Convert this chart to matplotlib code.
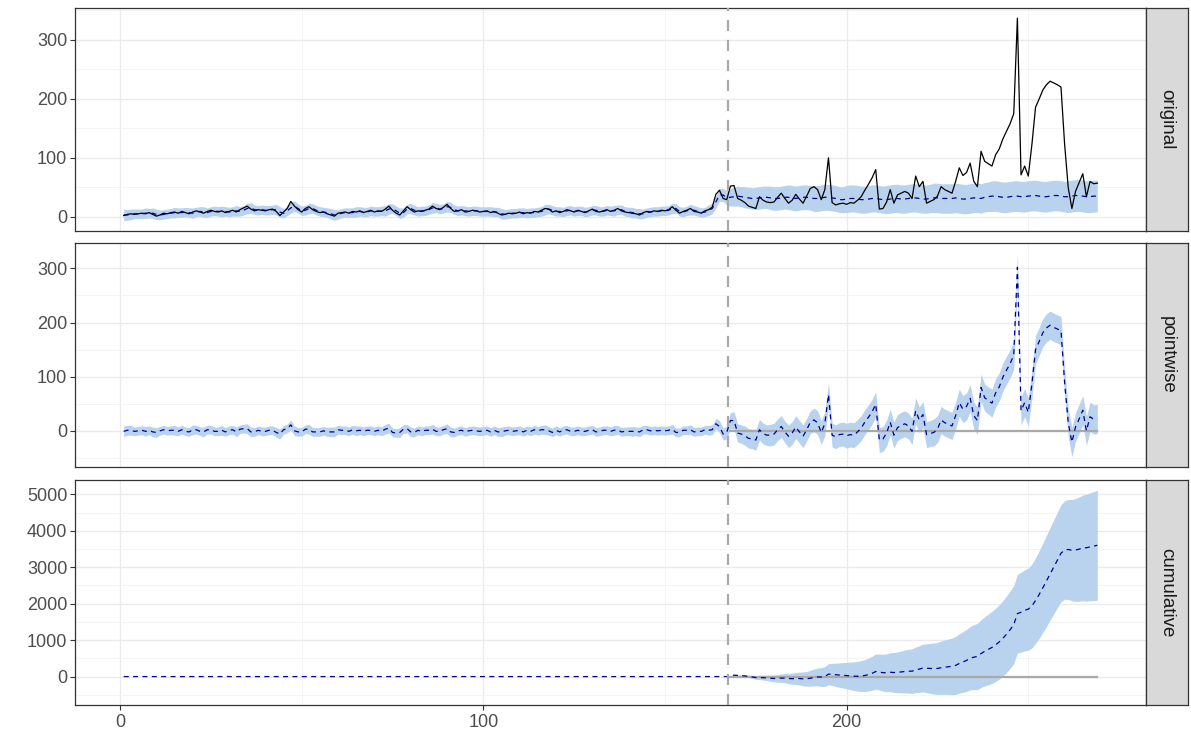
import numpy as np
import matplotlib
matplotlib.use("Agg")
import matplotlib.pyplot as plt
from matplotlib.ticker import MultipleLocator

plt.rcParams['font.family'] = ['Liberation Sans', 'DejaVu Sans']

# observed series, pre-period (t = 1..167)
original_pre = [2, 4, 5, 4, 5, 6, 5, 7, 4, 1,
                3, 6, 5, 7, 8, 6, 9, 7, 5, 8,
                10, 8, 6, 9, 11, 9, 8, 10, 7, 9,
                11, 8, 12, 15, 18, 13, 10, 12, 11, 10,
                12, 13, 9, 2, 8, 14, 26, 18, 12, 8,
                14, 17, 12, 9, 7, 8, 5, 3, 1, 6,
                7, 8, 6, 9, 8, 10, 7, 9, 11, 8,
                10, 9, 13, 18, 11, 6, 3, 10, 17, 12,
                8, 10, 9, 11, 13, 18, 14, 12, 16, 21,
                14, 9, 10, 12, 8, 9, 11, 10, 8, 9,
                10, 7, 9, 6, 3, 4, 6, 5, 6, 8,
                5, 7, 6, 9, 8, 11, 14, 13, 8, 10,
                7, 9, 12, 10, 8, 11, 9, 7, 10, 13,
                9, 8, 10, 12, 9, 11, 14, 10, 8, 7,
                6, 5, 3, 7, 9, 8, 10, 9, 11, 10,
                12, 17, 11, 6, 9, 11, 14, 9, 8, 6,
                10, 12, 16, 38, 45, 31, 29]
# observed series, post-period (t = 168..269)
original_post = [52, 53, 31, 28, 24, 18, 16, 14, 34, 28,
                 25, 24, 25, 33, 40, 31, 23, 28, 38, 30,
                 23, 35, 48, 51, 46, 29, 46, 100, 24, 20,
                 22, 23, 21, 24, 23, 28, 34, 45, 55, 66,
                 80, 13, 14, 25, 46, 23, 37, 40, 43, 40,
                 31, 69, 51, 60, 23, 26, 29, 35, 51, 46,
                 43, 40, 60, 83, 70, 75, 91, 60, 51, 111,
                 94, 90, 86, 105, 115, 132, 145, 158, 175, 337,
                 71, 86, 69, 123, 186, 200, 215, 224, 230, 227,
                 224, 220, 123, 49, 14, 43, 58, 73, 34, 60,
                 56, 57]

# model prediction (posterior mean)
predicted_pre = [3, 3, 4, 5, 5, 5, 6, 6, 6, 4,
                 3, 4, 5, 6, 7, 7, 7, 8, 7, 6,
                 8, 9, 8, 7, 9, 10, 9, 9, 9, 8,
                 9, 10, 9, 11, 14, 15, 12, 11, 12, 11,
                 11, 12, 12, 8, 6, 10, 15, 18, 14, 10,
                 11, 14, 14, 11, 9, 8, 7, 5, 3, 4,
                 6, 7, 7, 7, 8, 9, 8, 8, 10, 9,
                 9, 10, 10, 13, 14, 10, 6, 7, 13, 14,
                 11, 9, 10, 10, 12, 15, 15, 13, 14, 17,
                 16, 12, 10, 11, 10, 9, 10, 10, 9, 9,
                 9, 9, 8, 8, 5, 4, 5, 6, 6, 7,
                 7, 6, 7, 7, 8, 9, 12, 13, 11, 9,
                 9, 8, 10, 11, 9, 10, 10, 8, 9, 11,
                 11, 9, 9, 11, 10, 10, 12, 12, 9, 8,
                 7, 6, 5, 5, 7, 8, 9, 9, 10, 10,
                 11, 14, 14, 9, 8, 10, 12, 11, 9, 7,
                 8, 11, 14, 25, 37, 37, 32]
predicted_post = [33, 34, 35, 34, 33, 32, 31, 31, 32, 33,
                  33, 32, 31, 31, 32, 33, 33, 32, 31, 32,
                  33, 33, 32, 31, 31, 32, 33, 33, 32, 31,
                  29, 29, 30, 31, 31, 30, 29, 29, 30, 31,
                  31, 30, 29, 29, 30, 31, 31, 30, 30, 31,
                  32, 32, 31, 30, 30, 31, 32, 32, 31, 31,
                  31, 31, 32, 31, 30, 30, 31, 32, 32, 31,
                  33, 34, 35, 35, 34, 33, 33, 34, 35, 35,
                  34, 34, 35, 36, 36, 35, 34, 34, 35, 36,
                  36, 35, 34, 34, 35, 36, 36, 35, 34, 34,
                  35, 35]

# half-width of the 95% interval of the prediction
halfwidth_pre = [10, 9, 9, 8, 8, 8, 9, 8, 9, 9,
                 8, 8, 8, 8, 9, 8, 8, 8, 8, 9,
                 8, 8, 9, 8, 8, 8, 8, 9, 8, 8,
                 8, 9, 8, 8, 9, 9, 8, 8, 8, 8,
                 8, 8, 9, 9, 8, 8, 9, 9, 8, 8,
                 8, 9, 8, 8, 8, 8, 8, 9, 9, 8,
                 8, 8, 8, 8, 9, 8, 8, 8, 8, 8,
                 8, 8, 9, 9, 8, 8, 9, 8, 8, 9,
                 8, 8, 8, 8, 8, 9, 8, 8, 8, 9,
                 9, 8, 8, 8, 8, 8, 8, 8, 8, 8,
                 8, 8, 8, 8, 9, 8, 8, 8, 8, 8,
                 8, 8, 8, 8, 8, 8, 9, 8, 8, 8,
                 8, 8, 8, 8, 8, 8, 8, 8, 8, 8,
                 8, 8, 8, 8, 8, 9, 8, 8, 8, 8,
                 9, 8, 9, 8, 8, 8, 8, 8, 8, 8,
                 8, 9, 8, 8, 8, 8, 9, 8, 8, 8,
                 8, 9, 9, 10, 11, 11, 12]
halfwidth_post = [15, 16, 17, 17, 18, 18, 18, 19, 19, 19,
                  19, 20, 20, 20, 20, 20, 21, 21, 21, 21,
                  21, 21, 21, 22, 22, 22, 22, 22, 22, 22,
                  22, 22, 23, 23, 23, 23, 23, 23, 23, 23,
                  23, 23, 23, 24, 24, 24, 24, 24, 24, 24,
                  24, 24, 24, 24, 24, 24, 25, 25, 25, 25,
                  25, 25, 25, 25, 25, 25, 25, 25, 25, 25,
                  25, 25, 26, 26, 26, 26, 26, 26, 26, 26,
                  26, 26, 26, 26, 26, 26, 26, 26, 26, 26,
                  26, 26, 26, 27, 27, 27, 27, 27, 27, 27,
                  27, 27]

# half-width of the interval of the cumulative effect (post-period)
cum_halfwidth_post = [5, 10, 15, 22, 28, 35, 42, 50, 58, 66,
                      74, 84, 94, 105, 116, 128, 140, 152, 164, 176,
                      190, 203, 216, 230, 244, 258, 272, 288, 303, 318,
                      333, 348, 363, 378, 393, 408, 423, 438, 452, 466,
                      480, 494, 508, 521, 534, 547, 560, 573, 586, 599,
                      612, 626, 640, 655, 670, 685, 700, 715, 730, 745,
                      760, 778, 796, 814, 832, 850, 870, 890, 910, 930,
                      950, 970, 990, 1005, 1020, 1035, 1050, 1060, 1070, 1080,
                      1095, 1110, 1130, 1150, 1175, 1200, 1225, 1250, 1270, 1290,
                      1310, 1330, 1350, 1370, 1390, 1410, 1430, 1450, 1465, 1480,
                      1495, 1510]

intervention = 167.3
panel_names = ['original', 'pointwise', 'cumulative']

original = np.array(original_pre + original_post, dtype=float)
predicted = np.array(predicted_pre + predicted_post, dtype=float)
halfwidth = np.array(halfwidth_pre + halfwidth_post, dtype=float)
t = np.arange(1, len(original) + 1)
n_pre = len(original_pre)
t_post = t[n_pre:]

lower = predicted - halfwidth
upper = predicted + halfwidth
point = original - predicted
point_lo = original - upper
point_hi = original - lower

cum = np.concatenate([np.zeros(n_pre), np.cumsum(point[n_pre:])])
cum_hw = np.concatenate([np.zeros(n_pre), np.array(cum_halfwidth_post, dtype=float)])
cum_lo = cum - cum_hw
cum_hi = cum + cum_hw

band_col = '#B9D3EE'
mean_col = '#00008B'
ref_col = '#A9A9A9'
txt_col = '#4D4D4D'
edge_col = '#333333'

fig = plt.figure(figsize=(11.91, 7.42), dpi=100)
L, W = 75 / 1191, (1146 - 75) / 1191
SL, SW = 1146 / 1191, 42 / 1191
rows = [(8, 231), (243, 467), (480, 705)]

series = [
    (lower, upper, predicted, original),
    (point_lo, point_hi, point, None),
    (cum_lo, cum_hi, cum, None),
]
majors = [100, 100, 1000]

axes = []
for i, ((top, bot), (lo, hi, mid, obs)) in enumerate(zip(rows, series)):
    b = 1 - bot / 742
    h = (bot - top) / 742
    ax = fig.add_axes([L, b, W, h])
    axes.append(ax)
    ax.fill_between(t, lo, hi, color=band_col, lw=0, zorder=2)
    if obs is not None:
        ax.plot(t, obs, color='black', lw=0.9, zorder=3)
    else:
        ax.plot(t_post, np.zeros(len(t_post)), color=ref_col, lw=1.6, zorder=3)
    ax.plot(t, mid, color=mean_col, lw=0.9, dashes=(4, 3.5), zorder=4)
    ax.axvline(intervention, color=ref_col, lw=1.6, dashes=(5, 4), zorder=5)

    ax.margins(x=0.05, y=0.05)
    ax.yaxis.set_major_locator(MultipleLocator(majors[i]))
    ax.yaxis.set_minor_locator(MultipleLocator(majors[i] / 2))
    ax.xaxis.set_major_locator(MultipleLocator(100))
    ax.xaxis.set_minor_locator(MultipleLocator(50))
    ax.grid(True, which='major', color='#EBEBEB', lw=1.0, zorder=0)
    ax.grid(True, which='minor', color='#F3F3F3', lw=0.6, zorder=0)
    ax.set_axisbelow(True)
    for s in ax.spines.values():
        s.set_color(edge_col)
        s.set_linewidth(0.9)
    ax.tick_params(axis='y', which='major', length=3.5, width=0.8, color=edge_col,
                   labelsize=13, labelcolor=txt_col, pad=2)
    ax.tick_params(which='minor', length=0)
    if i < 2:
        ax.tick_params(axis='x', which='major', length=0, labelbottom=False)
    else:
        ax.tick_params(axis='x', which='major', length=3.5, width=0.8, color=edge_col,
                       labelsize=13, labelcolor=txt_col, pad=3)

    sax = fig.add_axes([SL, b, SW, h])
    sax.set_facecolor('#D9D9D9')
    sax.set_xticks([])
    sax.set_yticks([])
    for s in sax.spines.values():
        s.set_color(edge_col)
        s.set_linewidth(0.9)
    sax.text(0.5, 0.5, panel_names[i], rotation=-90, ha='center', va='center',
             fontsize=13.5, color='#1A1A1A', transform=sax.transAxes)

for ax in axes[:2]:
    ax.set_xlim(axes[2].get_xlim())

fig.savefig('out.png', dpi=100)
